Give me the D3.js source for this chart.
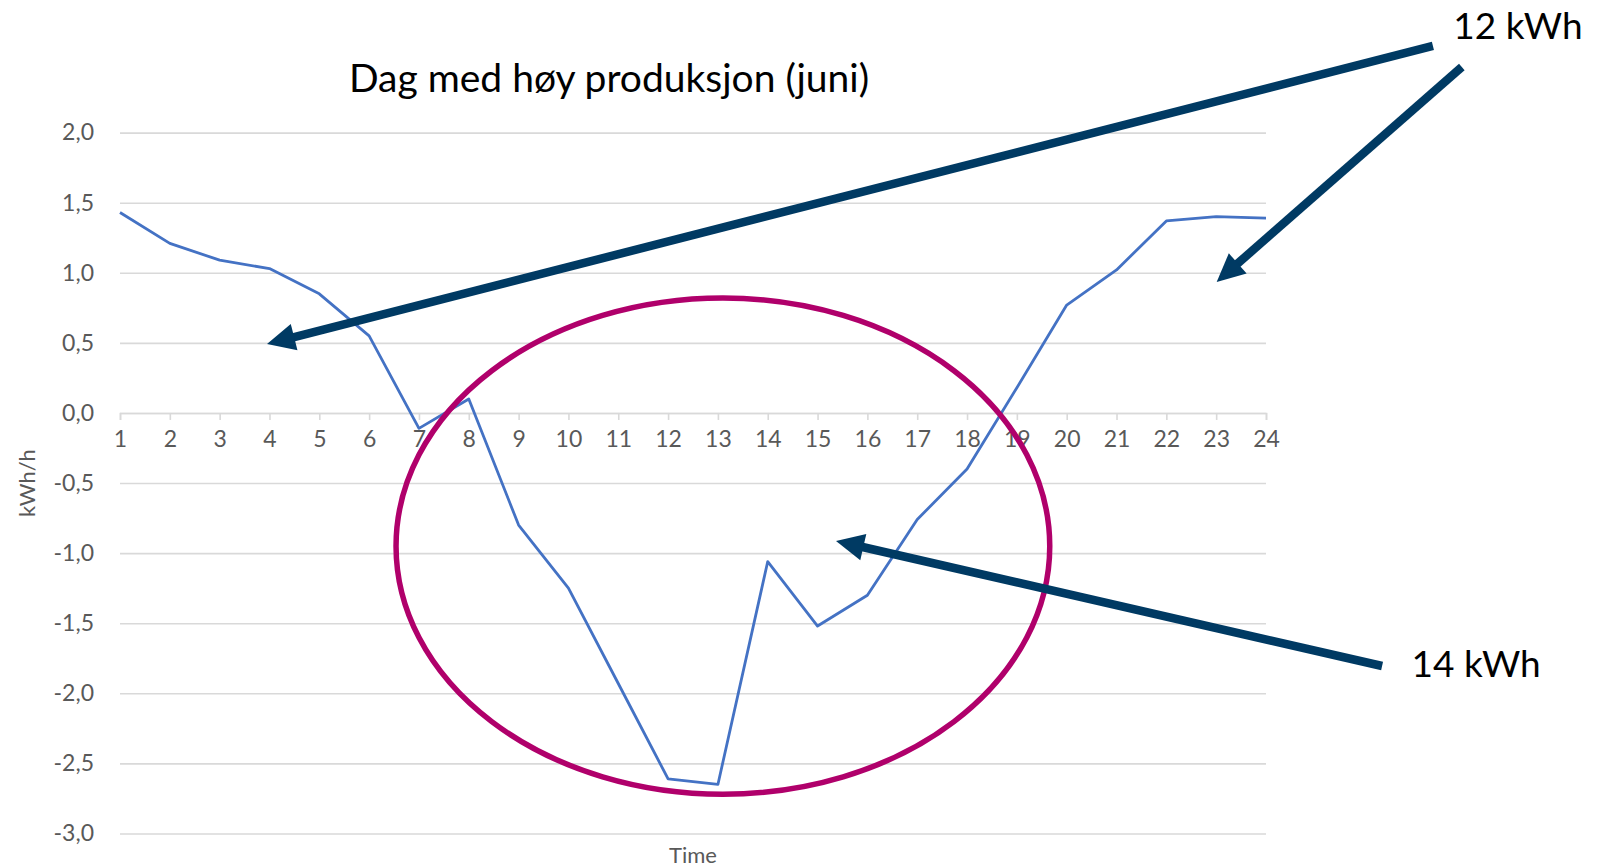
<!DOCTYPE html>
<html>
<head>
<meta charset="utf-8">
<script src="https://cdn.jsdelivr.net/npm/d3@7"></script>
<style>
html,body{margin:0;padding:0;background:#fff;}
svg{display:block;}
</style>
</head>
<body>
<svg id="chart" width="1599" height="867"></svg>
<script>
const hours = [1,2,3,4,5,6,7,8,9,10,11,12,13,14,15,16,17,18,19,20,21,22,23,24];
const values = [1.43,1.21,1.09,1.03,0.85,0.55,-0.11,0.10,-0.80,-1.25,-1.93,-2.61,-2.65,-1.06,-1.52,-1.30,-0.76,-0.40,0.18,0.77,1.02,1.37,1.40,1.39];
const yTicks = [2,1.5,1,0.5,0,-0.5,-1,-1.5,-2,-2.5,-3];
const title = "Dag med høy produksjon (juni)";
const yTitle = "kWh/h";
const xTitle = "Time";
// annotations in data coordinates
const ellipseAnn = {cx:13.1, cy:-0.95, rx:6.56, ry:1.77};
const arrowsAnn = [
  {x1:27.35, y1:2.618, x2:3.95, y2:0.492},
  {x1:27.93, y1:2.468, x2:23.01, y2:0.935},
  {x1:26.33, y1:-1.805, x2:15.37, y2:-0.913}
];
const labelsAnn = [
  {x:27.76, y:2.668, text:"12 kWh"},
  {x:26.92, y:-1.883, text:"14 kWh"}
];

const svg = d3.select("#chart");
const font = "Lato, 'Open Sans', sans-serif";
const x = d3.scaleLinear().domain([1,24]).range([120,1266]);
const y = d3.scaleLinear().domain([-3,2]).range([833.5,132.6]);

// gridlines
const yAxis = d3.axisLeft(y).tickValues(yTicks).tickSize(-(x.range()[1]-x.range()[0])).tickPadding(26)
  .tickFormat(d => d3.format(".1f")(d).replace(".", ",").replace("−","-"));
const gy = svg.append("g").attr("transform",`translate(${x.range()[0]},0)`).call(yAxis);
gy.select(".domain").remove();
gy.selectAll(".tick line").attr("stroke","#d9d9d9").attr("stroke-width",1.6);
gy.selectAll(".tick text").attr("fill","#595959").style("font-family",font).style("font-size","23px");

// x axis at y=0
const xAxis = d3.axisBottom(x).tickValues(hours).tickSize(7).tickPadding(11).tickFormat(d3.format("d"));
const gx = svg.append("g").attr("transform",`translate(0,${y(0)})`).call(xAxis);
gx.select(".domain").attr("stroke","#d9d9d9").attr("stroke-width",1.6);
gx.selectAll(".tick line").attr("stroke","#d9d9d9").attr("stroke-width",1.6);
gx.selectAll(".tick text").attr("fill","#595959").style("font-family",font).style("font-size","23px");

// line
const line = d3.line().x((d,i)=>x(hours[i])).y(d=>y(d));
svg.append("path").datum(values).attr("d",line).attr("fill","none")
  .attr("stroke","#4472c4").attr("stroke-width",2.8).attr("stroke-linejoin","round");

// title
svg.append("text").attr("x",609).attr("y",92).attr("text-anchor","middle")
  .style("font-family",font).style("font-size","39px").attr("fill","#000").text(title);
// axis titles
svg.append("text").attr("transform",`translate(35,${y(-0.5)}) rotate(-90)`).attr("text-anchor","middle")
  .style("font-family",font).style("font-size","22px").attr("fill","#595959").text(yTitle);
svg.append("text").attr("x",(x(1)+x(24))/2).attr("y",863).attr("text-anchor","middle")
  .style("font-family",font).style("font-size","22px").attr("fill","#595959").text(xTitle);

// ellipse
svg.append("ellipse").attr("cx",x(ellipseAnn.cx)).attr("cy",y(ellipseAnn.cy))
  .attr("rx",x(1+ellipseAnn.rx)-x(1)).attr("ry",y(0)-y(ellipseAnn.ry))
  .attr("fill","none").attr("stroke","#b0006b").attr("stroke-width",5.5);

// arrows
const headLen = 28, headW = 27;
arrowsAnn.forEach(a => {
  const X1=x(a.x1), Y1=y(a.y1), X2=x(a.x2), Y2=y(a.y2);
  const dx=X2-X1, dy=Y2-Y1, L=Math.hypot(dx,dy), ux=dx/L, uy=dy/L;
  const bx=X2-ux*headLen, by=Y2-uy*headLen;
  svg.append("line").attr("x1",X1).attr("y1",Y1).attr("x2",bx+ux*2).attr("y2",by+uy*2)
    .attr("stroke","#003a63").attr("stroke-width",8.5);
  svg.append("polygon").attr("points",[[X2,Y2],[bx-uy*headW/2,by+ux*headW/2],[bx+uy*headW/2,by-ux*headW/2]].map(p=>p.join(",")).join(" "))
    .attr("fill","#003a63");
});

labelsAnn.forEach(l => {
  svg.append("text").attr("x",x(l.x)).attr("y",y(l.y)).style("font-family",font).style("font-size","37px")
    .attr("fill","#000").text(l.text);
});
</script>
</body>
</html>
